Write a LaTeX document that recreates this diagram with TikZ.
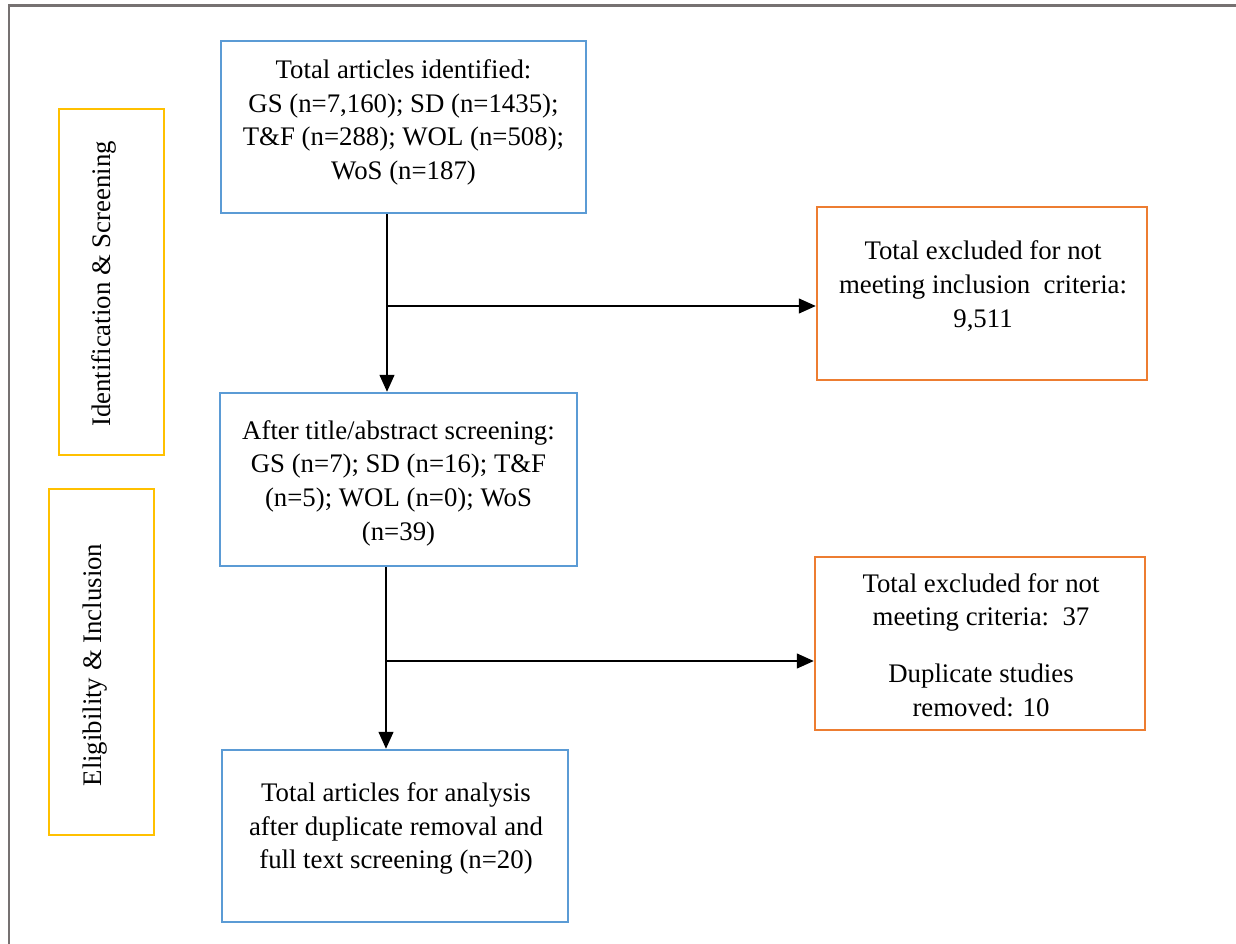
\documentclass[tikz,border=0pt]{standalone}
\usepackage{fontspec}
\setmainfont{Liberation Serif}
\usetikzlibrary{arrows.meta}
\definecolor{boxblue}{HTML}{5B9BD5}
\definecolor{boxorange}{HTML}{ED7D31}
\definecolor{boxyellow}{HTML}{FFC000}
\definecolor{framegray}{HTML}{767171}
\begin{document}
\begin{tikzpicture}[x=1pt,y=-1pt,
  frame/.style={draw=framegray,line width=2.4pt},
  panel/.style={draw,line width=2.5pt,inner sep=0pt},
  bluebox/.style={panel,draw=boxblue},
  orangebox/.style={panel,draw=boxorange},
  yellowbox/.style={panel,draw=boxyellow},
  txt/.style={inner sep=0pt,align=center,font=\fontsize{26.8}{33.7}\selectfont},
  conn/.style={draw=black,line width=1.4pt,-{Triangle[length=17pt,width=15pt]}}]
\useasboundingbox (0,0) rectangle (1236,944);
\fill[white] (0,0) rectangle (1236,944);
\draw[frame] (9,944) -- (9,5.5) -- (1236,5.5);

% side stage boxes
\node[yellowbox,minimum width=105pt,minimum height=346pt] (y1) at (111.5,282) {};
\node[txt,rotate=90] (y1t) at (104,284) {Identification \& Screening};
\node[yellowbox,minimum width=105pt,minimum height=346pt] (y2) at (101.5,662) {};
\node[txt,rotate=90] (y2t) at (95,665) {Eligibility \& Inclusion};

% main flow boxes
\node[bluebox,minimum width=365pt,minimum height=172pt] (b1) at (403.5,127) {};
\node[txt] (b1t) at (403.5,122.5) {Total articles identified:\\GS (n=7,160); SD (n=1435);\\T\&F (n=288); WOL (n=508);\\WoS (n=187)};
\node[bluebox,minimum width=357pt,minimum height=173pt] (b2) at (398.5,479.5) {};
\node[txt] (b2t) at (398.5,483) {After title/abstract screening:\\GS (n=7); SD (n=16); T\&F\\(n=5); WOL (n=0); WoS\\(n=39)};
\node[bluebox,minimum width=346pt,minimum height=172pt] (b3) at (395,836) {};
\node[txt] (b3t) at (396,828.5) {Total articles for analysis\\after duplicate removal and\\full text screening (n=20)};

% exclusion boxes
\node[orangebox,minimum width=330pt,minimum height=173pt] (o1) at (982,293.5) {};
\node[txt] (o1t) at (983,286) {Total excluded for not\\meeting inclusion\ \ criteria:\\9,511};
\node[orangebox,minimum width=330pt,minimum height=173pt] (o2) at (980,643.5) {};
\node[txt] (o2t) at (981,645) {Total excluded for not\\meeting criteria:\ \ 37\\[23pt]Duplicate studies\\removed: 10};

% connectors
\coordinate (j1) at (387,306);
\coordinate (j2) at (386,661);
\draw[conn] (j1 |- b1.south) -- (j1 |- b2.north);
\draw[conn] (j1) -- (j1 -| o1.west);
\draw[conn] (j2 |- b2.south) -- (j2 |- b3.north);
\draw[conn] (j2) -- (j2 -| o2.west);
\end{tikzpicture}
\end{document}
